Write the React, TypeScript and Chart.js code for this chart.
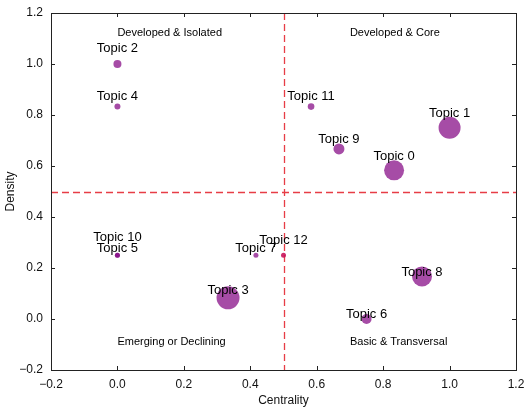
import React, { useEffect, useRef } from "react";
import { Chart, registerables } from "chart.js";

Chart.register(...registerables);

// ---- data ----
const topics = ["Topic 0", "Topic 1", "Topic 2", "Topic 3", "Topic 4", "Topic 5", "Topic 6", "Topic 7", "Topic 8", "Topic 9", "Topic 10", "Topic 11", "Topic 12"];
const centrality = [0.833, 1.0, 0.0, 0.333, 0.0, 0.0, 0.75, 0.417, 0.917, 0.667, 0.0, 0.583, 0.5];
const density = [0.583, 0.75, 1.0, 0.083, 0.833, 0.25, 0.0, 0.25, 0.167, 0.667, 0.25, 0.833, 0.25];
const weights = [10, 11, 4, 11.5, 3, 2.5, 5, 2.5, 10, 5.5, 2.5, 3.3, 2.5];
const labelOffsets = [0.055, 0.055, 0.061, 0.029, 0.038, 0.026, 0.017, 0.026, 0.017, 0.039, 0.068, 0.038, 0.059];
const quadrantNames = ["Developed & Isolated", "Developed & Core", "Emerging or Declining", "Basic & Transversal"];
const quadrantX = [0.0, 0.7, 0.0, 0.7];
const quadrantY = [1.12, 1.12, -0.09, -0.09];
const splitX = 0.5;
const splitY = 0.5;
const axisMin = -0.2;
const axisMax = 1.2;
const tickStep = 0.2;

// ---- styles ----
const FONT = "'Liberation Sans', Arial, Helvetica, sans-serif";
const PURPLE = "rgba(128,0,128,0.7)";
const pointColors = topics.map((t) => (t === "Topic 12" ? "rgba(200,20,90,0.9)" : PURPLE));

const fmt = (v: number) => {
  const r = Math.round(Number(v) * 10) / 10;
  const s = Math.abs(r).toFixed(1);
  return r < 0 ? "\u2212" + s : s;
};

const overlayPlugin = {
  id: "overlay",
  beforeDatasetsDraw(chart: any) {
    const { ctx, chartArea: a, scales } = chart;
    const xs = scales.x, ys = scales.y;
    ctx.save();
    ctx.strokeStyle = "rgba(228,40,50,0.9)";
    ctx.lineWidth = 1.3;
    ctx.setLineDash([7, 4]);
    const px = Math.round(xs.getPixelForValue(splitX)) + 0.5;
    const py = Math.round(ys.getPixelForValue(splitY)) + 0.5;
    ctx.beginPath();
    ctx.moveTo(px, a.top);
    ctx.lineTo(px, a.bottom);
    ctx.moveTo(a.left, py);
    ctx.lineTo(a.right, py);
    ctx.stroke();
    ctx.restore();
  },
  afterDatasetsDraw(chart: any) {
    const { ctx, scales } = chart;
    const xs = scales.x, ys = scales.y;
    ctx.save();
    ctx.fillStyle = "#000";
    ctx.font = `13px ${FONT}`;
    ctx.textAlign = "center";
    ctx.textBaseline = "middle";
    topics.forEach((t, i) => {
      ctx.fillText(t, xs.getPixelForValue(centrality[i]), ys.getPixelForValue(density[i] + labelOffsets[i]));
    });
    ctx.font = `11px ${FONT}`;
    ctx.textAlign = "left";
    quadrantNames.forEach((q, i) => {
      ctx.fillText(q, xs.getPixelForValue(quadrantX[i]), ys.getPixelForValue(quadrantY[i]));
    });
    ctx.restore();
  },
  afterDraw(chart: any) {
    const { ctx, chartArea: a, scales } = chart;
    ctx.save();
    ctx.strokeStyle = "#222";
    ctx.lineWidth = 1;
    ctx.strokeRect(Math.round(a.left) + 0.5, Math.round(a.top) + 0.5, Math.round(a.right - a.left), Math.round(a.bottom - a.top));
    const len = 4;
    ctx.beginPath();
    scales.x.ticks.forEach((t: any) => {
      const x = Math.round(scales.x.getPixelForValue(t.value)) + 0.5;
      ctx.moveTo(x, a.bottom);
      ctx.lineTo(x, a.bottom - len);
      ctx.moveTo(x, a.top);
      ctx.lineTo(x, a.top + len);
    });
    scales.y.ticks.forEach((t: any) => {
      const y = Math.round(scales.y.getPixelForValue(t.value)) + 0.5;
      ctx.moveTo(a.left, y);
      ctx.lineTo(a.left + len, y);
      ctx.moveTo(a.right, y);
      ctx.lineTo(a.right - len, y);
    });
    ctx.stroke();
    ctx.restore();
  },
};

export default function App() {
  const ref = useRef<HTMLCanvasElement>(null);
  useEffect(() => {
    if (!ref.current) return;
    const chart = new Chart(ref.current, {
      type: "bubble",
      data: {
        datasets: [
          {
            label: "Topics",
            data: topics.map((_, i) => ({ x: centrality[i], y: density[i], r: weights[i] })),
            backgroundColor: pointColors,
            borderWidth: 0,
            clip: false,
          },
        ],
      },
      options: {
        responsive: false,
        animation: false,
        events: [],
        layout: { autoPadding: false, padding: { left: 0, top: 13, right: 8, bottom: 0 } },
        plugins: { legend: { display: false }, tooltip: { enabled: false } },
        scales: {
          x: {
            type: "linear",
            min: axisMin,
            max: axisMax,
            afterFit: (s: any) => { s.height = 38; s.paddingLeft = 0; s.paddingRight = 0; },
            grid: { display: false, drawTicks: false },
            border: { display: false },
            ticks: { stepSize: tickStep, padding: 7, color: "#111", font: { family: FONT, size: 12 }, callback: (v: any) => fmt(v), maxRotation: 0, autoSkip: false },
            title: { display: true, text: "Centrality", color: "#111", font: { family: FONT, size: 12 }, padding: { top: 0, bottom: 0 } },
          },
          y: {
            type: "linear",
            min: axisMin,
            max: axisMax,
            afterFit: (s: any) => { s.width = 51; s.paddingTop = 0; s.paddingBottom = 0; },
            grid: { display: false, drawTicks: false },
            border: { display: false },
            ticks: { stepSize: tickStep, padding: 8, color: "#111", font: { family: FONT, size: 12 }, callback: (v: any) => fmt(v), autoSkip: false },
            title: { display: true, text: "Density", color: "#111", font: { family: FONT, size: 12 }, padding: { top: 3, bottom: 0 } },
          },
        },
      },
      plugins: [overlayPlugin],
    } as any);
    return () => chart.destroy();
  }, []);
  return (
    <div style={{ position: "absolute", left: 0, top: 0, width: 524, height: 408, background: "#fff" }}>
      <canvas ref={ref} width={524} height={408} />
    </div>
  );
}
